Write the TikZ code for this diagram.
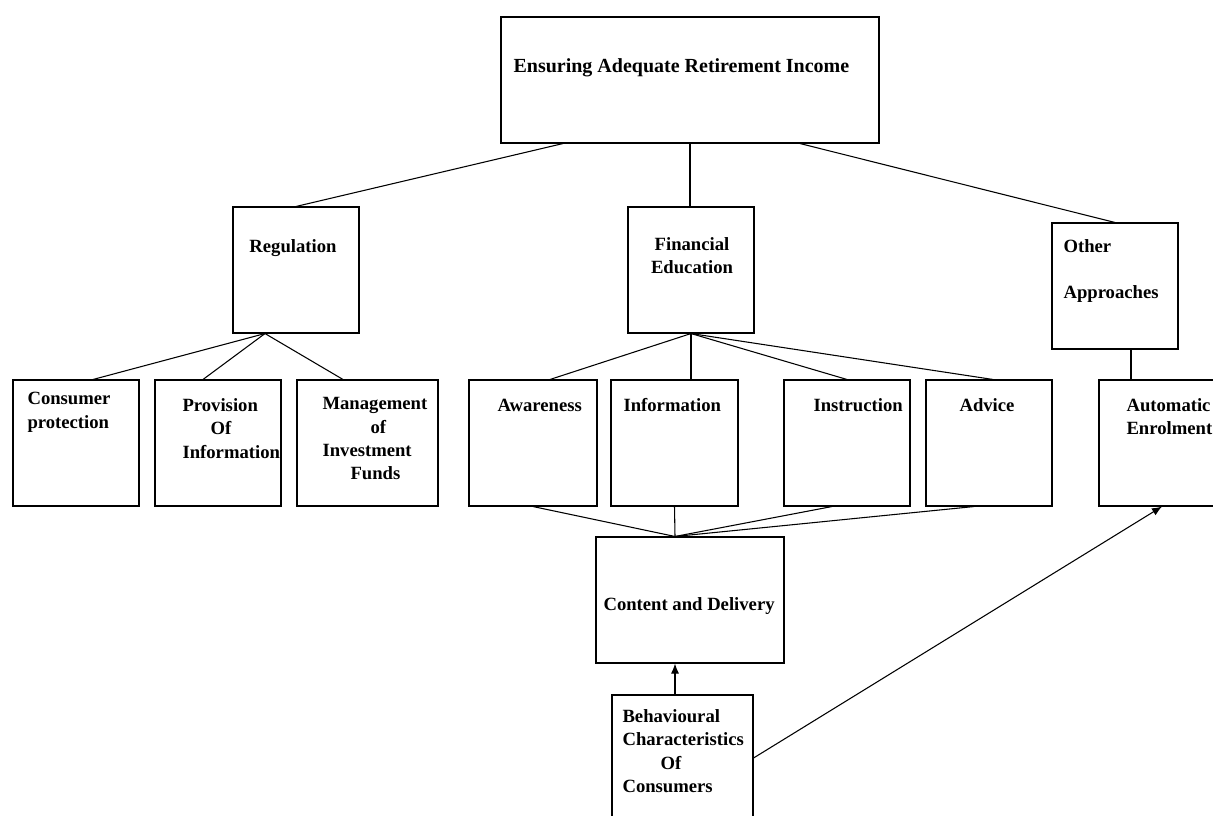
\documentclass[tikz,border=0pt]{standalone}
\usepackage{fontspec}
\setmainfont{Liberation Serif}
\usetikzlibrary{calc,arrows.meta}
\begin{document}
\begin{tikzpicture}[x=0.75pt,y=-0.75pt,>={Latex[length=7.5pt,width=6pt]},line width=0.8pt,
  blk/.style={draw,rectangle,inner sep=0pt,minimum width=94.5pt,minimum height=94.5pt},
  txt/.style={inner sep=0pt,font=\fontsize{14}{17.5}\selectfont\bfseries}]
  \useasboundingbox (0,0) rectangle (1213,815);

  % 方框
  \node[blk,minimum width=283.5pt] (goal) at (690,80) {};
  \node[blk] (reg) at (296,270) {};
  \node[blk] (edu) at (691,270) {};
  \node[blk] (other) at (1115,286) {};
  \node[blk] (cons) at (76,443) {};
  \node[blk] (prov) at (218,443) {};
  \node[blk,minimum width=105.75pt] (mgmt) at (367.5,443) {};
  \node[blk,minimum width=96pt] (aware) at (533,443) {};
  \node[blk,minimum width=95.25pt] (info) at (674.5,443) {};
  \node[blk] (instr) at (847,443) {};
  \node[blk] (advice) at (989,443) {};
  \node[blk] (auto) at (1162,443) {};
  \node[blk,minimum width=141pt] (deliv) at (690,600) {};
  \node[blk,minimum width=105.75pt] (behav) at (682.5,758) {};

  % 文字
  \node[txt,anchor=base west,font=\fontsize{15}{18}\selectfont\bfseries] (goaltxt) at (513,72) {Ensuring Adequate Retirement Income};
  \node[txt,anchor=base] (regtxt) at (293,252) {Regulation};
  \node[txt,anchor=north,align=center] (edutxt) at (692,237) {Financial\\Education};
  \node[txt,anchor=north west,align=left] (othertxt) at (1063,239) {Other\\[17pt]Approaches};
  \node[txt,anchor=north west,align=left] (constxt) at (27,392) {Consumer\\protection};
  \node[txt,anchor=north west,align=left] (provtxt) at (182,398) {Provision\\\hspace{21pt}Of\\Information};
  \node[txt,anchor=north west,align=left] (mgmttxt) at (322,397) {Management\\\hspace{36pt}of\\Investment\\\hspace{21pt}Funds};
  \node[txt,anchor=base west] (awaretxt) at (497,411) {Awareness};
  \node[txt,anchor=base west] (infotxt) at (623,411) {Information};
  \node[txt,anchor=base west] (instrtxt) at (813,411) {Instruction};
  \node[txt,anchor=base west] (advicetxt) at (959,411) {Advice};
  \node[txt,anchor=north west,align=left] (autotxt) at (1126,398) {Automatic\\Enrolment};
  \node[txt,anchor=base west] (delivtxt) at (603,610) {Content and Delivery};
  \node[txt,anchor=north west,align=left] (behavtxt) at (622,709) {Behavioural\\Characteristics\\\hspace{28.5pt}Of\\Consumers};

  % 连线
  \draw ($(goal.south)+(-127,0)$) -- (reg.north);
  \draw (goal.south) -- (goal.south |- edu.north);
  \draw ($(goal.south)+(110,0)$) -- (other.north);
  \draw ($(other.south)+(16,0)$) -- ($(auto.north)+(-31,0)$);

  \coordinate (regfoot) at ($(reg.south)+(-31,0)$);
  \draw (regfoot) -- ($(cons.north)+(17,0)$);
  \draw (regfoot) -- ($(prov.north)+(-15,0)$);
  \draw (regfoot) -- ($(mgmt.north)+(-24.5,0)$);

  \draw (edu.south) -- ($(aware.north)+(17,0)$);
  \draw (edu.south) -- (edu.south |- info.north);
  \draw (edu.south) -- (instr.north);
  \draw (edu.south) -- ($(advice.north)+(4,0)$);

  \coordinate (delivtop) at ($(deliv.north)+(-15,0)$);
  \draw (aware.south) -- (delivtop);
  \draw (info.south) -- (delivtop);
  \draw ($(instr.south)+(-15,0)$) -- (delivtop);
  \draw ($(advice.south)+(-15,0)$) -- (delivtop);

  % 箭头
  \draw[->] ($(behav.north)+(-7.5,0)$) -- ($(deliv.south)+(-15,0)$);
  \draw[->] (behav.east) -- (auto.south);
\end{tikzpicture}
\end{document}
